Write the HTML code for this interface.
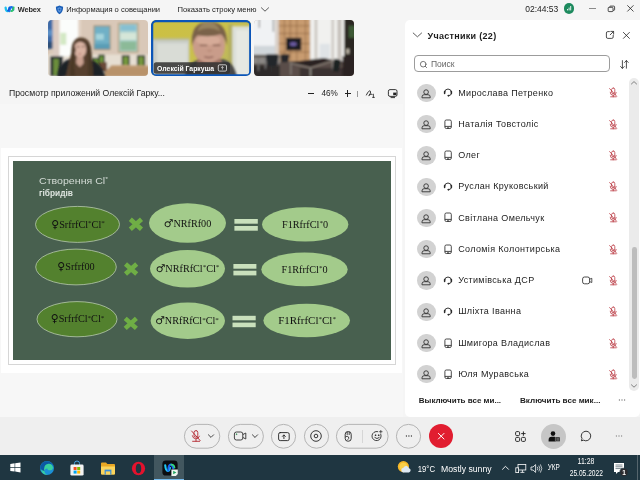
<!DOCTYPE html>
<html lang="ru"><head><meta charset="utf-8"><title>Webex</title>
<style>
*{box-sizing:border-box;margin:0;padding:0}
html,body{width:640px;height:480px;overflow:hidden;background:#f5f5f5;font-family:"Liberation Sans",sans-serif;color:#1a1a1a}
.a{position:absolute}
.t{position:absolute;white-space:nowrap;font-size:8.6px;line-height:10px;color:#1c1c1c}
#panel{left:405px;top:20px;width:235px;height:396.500px;background:#fff;border-radius:5px 0 5px 5px}
.av{position:absolute;left:417.3px;width:18.4px;height:18.4px;border-radius:50%;background:#d2d2d2}
.av svg{position:absolute;left:0;top:0}
.nm{position:absolute;left:458.200px;font-size:9px;letter-spacing:0.350px;line-height:10px;white-space:nowrap;color:#1c1c1c}
#task{left:0;top:455px;width:640px;height:25px;background:#1f3641}
.btn{position:absolute;border:0.7px solid #9a9a9a;border-radius:12.2px;height:24.4px;top:423.8px;background:#f5f5f5}
#root{position:absolute;left:0;top:0;width:640px;height:480px;overflow:hidden;will-change:transform;transform:translateZ(0)}
</style></head><body><div id="root">

<!-- title bar -->
<svg class="a" style="left:4px;top:4.500px" width="11" height="9" viewBox="0 0 11 9" fill="none" stroke-linecap="round"><path d="M1.600 2.600 q0.400 3.600 2 3.600 q1.600 0 2 -3.600" stroke="#1cc0ee" stroke-width="2.300"/><path d="M5.400 6.200 q0.400 -4 2 -4 q1.400 0 1.800 2.400" stroke="#1d6ff0" stroke-width="2.300"/><path d="M7.400 6 q1.600 0.200 2.200 -3.400" stroke="#2fc56e" stroke-width="2"/><path d="M4 5.600 q0.800 -0.400 1.400 -3" stroke="#1458d8" stroke-width="1.700"/></svg>
<div class="t" style="left:17.700px;top:4.600px;font-size:7.400px;font-weight:bold;color:#2a2a2a;letter-spacing:-0.100px">Webex</div>
<svg class="a" style="left:54.500px;top:4.500px" width="9" height="10" viewBox="0 0 9 10"><path d="M4.500 0.600 q2 1.100 3.600 1.100 q0.200 5.600 -3.600 7.600 q-3.800 -2 -3.600 -7.600 q1.600 0 3.600 -1.100z" fill="#1b5fb8"/><path d="M4.500 2.300 q1.100 0.600 2.100 0.700 q0 3.300 -2.100 4.600 q-2.100 -1.300 -2.100 -4.600 q1 -0.100 2.100 -0.700z" fill="#5c95dc"/><circle cx="4.500" cy="4.400" r="1" fill="#1b5fb8"/></svg>
<div class="t" style="left:66.300px;top:4.700px;font-size:7.550px">Информация о совещании</div>
<div class="t" style="left:177.500px;top:4.700px;font-size:7.620px">Показать строку меню</div>
<svg class="a" style="left:260px;top:5.500px" width="10" height="7" viewBox="0 0 10 7" fill="none" stroke="#333" stroke-width="0.800" stroke-linecap="round" stroke-linejoin="round"><path d="M1.400 1.800 l3.600 3.400 l3.600 -3.400"/></svg>
<div class="t" style="left:525.200px;top:3.600px;font-size:8.500px">02:44:53</div>
<div class="a" style="left:563.800px;top:3.400px;width:10.200px;height:10.200px;border-radius:50%;background:#1d8a5e"></div>
<svg class="a" style="left:563.800px;top:3.400px" width="10.200" height="10.200" viewBox="0 0 10.200 10.200" stroke="#fff" stroke-width="0.900"><path d="M3.500 7.400 v-1.400 M5.100 7.400 v-2.800 M6.700 7.400 v-4.400"/></svg>
<div class="a" style="left:589.200px;top:7.700px;width:6.500px;height:0.800px;background:#8a8a8a"></div>
<svg class="a" style="left:607px;top:4.500px" width="9" height="8" viewBox="0 0 9 8" fill="none" stroke="#222" stroke-width="0.800"><rect x="1.200" y="2.300" width="4.800" height="4.300" rx="0.800"/><path d="M2.800 2.300 v-0.500 q0 -0.700 0.700 -0.700 h3.300 q0.800 0 0.800 0.800 v2.700 q0 0.700 -0.700 0.700 h-0.800"/></svg>
<svg class="a" style="left:626px;top:4.200px" width="9" height="9" viewBox="0 0 9 9" fill="none" stroke="#222" stroke-width="0.800" stroke-linecap="round"><path d="M1.600 1.600 l5.600 5.600 M7.200 1.600 l-5.600 5.600"/></svg>


<svg class="a" style="left:47.700px;top:20.200px;border-radius:4px" width="100.400" height="55.700" viewBox="47.700 20.200 100.400 55.700">
<defs><filter id="bl1" x="-5%" y="-5%" width="110%" height="110%"><feGaussianBlur stdDeviation="0.8"/></filter>
<filter id="bl2" x="-10%" y="-10%" width="120%" height="120%"><feGaussianBlur stdDeviation="1.1"/></filter></defs>
<rect x="47" y="20" width="102" height="57" fill="#d9c8b8"/>
<g filter="url(#bl1)">
<rect x="46" y="54.800" width="104" height="24" fill="#e6ded2"/>
<rect x="46" y="18" width="6.400" height="31" fill="#3d6aa8"/>
<rect x="46" y="30" width="6.400" height="6" fill="#5b8fc6"/>
<rect x="46" y="42" width="6.400" height="7" fill="#2f4f78"/>
<rect x="52.400" y="18" width="7" height="40" fill="#dccbc2"/>
<rect x="59.200" y="18" width="18.500" height="38.500" fill="#fbfdfb"/>
<rect x="60" y="33" width="6" height="12" fill="#d3e8c4"/>
<rect x="77.700" y="18" width="3" height="38" fill="#e4d6c8"/>
<rect x="93.300" y="25.600" width="17" height="24.600" fill="#a58e6c"/>
<rect x="94.300" y="26.600" width="15" height="22.600" fill="#6fb0c6"/>
<rect x="95.500" y="34" width="8" height="6" fill="#a5d4dc"/>
<rect x="94.300" y="44" width="15" height="5.200" fill="#5a9db6"/>
<rect x="117.700" y="23.100" width="20.400" height="29.700" fill="#b39c78"/>
<rect x="118.900" y="24.300" width="18" height="27.300" fill="#aed3d0"/>
<rect x="120" y="25" width="16" height="6" fill="#86c0d2"/>
<rect x="120" y="33" width="16" height="7" fill="#d5e6d8"/>
<rect x="120" y="41.500" width="16" height="9" fill="#8cba98"/>
<rect x="49.800" y="56.500" width="13" height="20" fill="#2c3334"/>
<rect x="53" y="59" width="5.500" height="17" fill="#6c8f3a"/>
<rect x="91" y="58" width="9" height="14" fill="#2f3a28"/>
<rect x="92.500" y="59.500" width="6" height="12" fill="#6c9436"/>
<rect x="98" y="55" width="6.500" height="11" fill="#2e3a2c"/>
<rect x="99.500" y="56.500" width="3.500" height="8" fill="#6e9a3a"/>
<rect x="98.800" y="62.400" width="7.800" height="9.600" fill="#6a4a38"/>
<rect x="121.400" y="55.600" width="8" height="10.400" fill="#2e3528"/>
<rect x="123" y="57" width="4.800" height="9" fill="#74983c"/>
<rect x="136.600" y="55.600" width="8.300" height="10.400" fill="#2e3528"/>
<rect x="138.300" y="57" width="4.900" height="9" fill="#74983c"/>
<path d="M111.500 65.300 L149 66 V77 H100z" fill="#b8926a"/>
<path d="M111.500 65.300 L149 66 V67.200 L110 66.600z" fill="#c9a67e"/>
</g>
<g filter="url(#bl1)">
<path d="M57 77 q1 -15 13 -18 l18 0 q13 3 17 18z" fill="#1f2128"/>
<path d="M65.500 77 q3 -14 5.500 -24 q0 -15 9.500 -15.200 q10.500 0.200 10.600 15 q1 12 1.800 24.200z" fill="#56412f"/>
<ellipse cx="79.800" cy="49.600" rx="6.200" ry="8.400" fill="#d9b2a2"/>
<path d="M72.800 48 q0.500 -8.500 7 -9 q7 0.500 7.600 9 q-3.200 -5.800 -7.400 -6 q-4.800 0.600 -7.200 6z" fill="#56412f"/>
<path d="M76.300 57 h6.500 l0.600 6.500 l-3.800 4 l-3.800 -4z" fill="#c9a090"/>
<path d="M85.500 44 q3 10 1.800 33 h5.700 l-2 -24 q-1 -8 -5.500 -9z" fill="#4a3728"/>
<path d="M74 45 q-4 12 -4.500 32 h5.500 q-2.500 -18 0.500 -27z" fill="#4a3728"/>
<path d="M76.500 47 h2.600 M81.500 46.800 h2.600" stroke="#5a4036" stroke-width="0.900"/>
<path d="M78.200 54.200 h2.600" stroke="#a8665e" stroke-width="0.900"/>
</g>
</svg>

<svg class="a" style="left:150.700px;top:19.700px;border-radius:5px" width="100.400" height="56.500" viewBox="150.700 19.700 100.400 56.500">
<defs><linearGradient id="wall2" x1="0" y1="0" x2="1" y2="0.600"><stop offset="0" stop-color="#cdc040"/><stop offset="0.600" stop-color="#c9c04c"/><stop offset="1" stop-color="#b9b562"/></linearGradient></defs>
<rect x="150" y="19" width="102" height="58" fill="url(#wall2)"/>
<g filter="url(#bl1)">
<rect x="151" y="38" width="38" height="40" fill="#c9cdc7"/>
<rect x="156.800" y="43" width="30.500" height="24" fill="#d9dcd6"/>
<rect x="151" y="38" width="38" height="1.800" fill="#b9b98a"/>
<rect x="228" y="24" width="5" height="54" fill="#b3ae5c"/>
<rect x="232" y="26" width="21" height="52" fill="#dcdfd8"/>
<rect x="236" y="30" width="12" height="46" fill="#e6e8e2"/>
</g>
<g filter="url(#bl1)">
<path d="M184 78 q2 -15 15 -19 h24 q11 3 14 19z" fill="#48484a"/>
<path d="M198 58 h22 l2 8 q-13 7 -26 0z" fill="#a87868"/>
<ellipse cx="208.600" cy="45" rx="16.200" ry="19.500" fill="#c99c8a"/>
<ellipse cx="208" cy="40" rx="12" ry="5" fill="#d6ab98"/>
<path d="M197 58 q11 9 23 0 q-2 7 -11.500 7.500 q-9 -0.500 -11.500 -7.500z" fill="#8f6458"/>
<path d="M192 46 q-3 -24.500 17 -24.500 q19 0 17.500 24 q-2 -9 -6 -11.500 q-11 3.500 -23 1 q-4 3 -5.500 11z" fill="#7a6248"/>
<path d="M197 31 q11 -6 23 0 q-4 -9.500 -11.500 -9.500 q-8 0 -11.500 9.500z" fill="#98835f"/>
<path d="M199.500 45 h7.500 M212.500 45 h7.500" stroke="#7a5444" stroke-width="1.200"/>
<path d="M204 56.500 q4.500 1.500 9 0" stroke="#7d4f46" stroke-width="1.200" fill="none"/>
<path d="M207 50 q2 1.500 4.500 0" stroke="#a87868" stroke-width="0.900" fill="none"/>
</g>
<rect x="153.400" y="61.900" width="76.300" height="11.600" rx="2.500" fill="#333" opacity="0.860"/>
<text x="156.800" y="70.500" font-family="'Liberation Sans',sans-serif" font-size="7.300" font-weight="bold" fill="#fff" textLength="57" lengthAdjust="spacingAndGlyphs">Олексій Гаркуша</text>
<g fill="none" stroke="#fff" stroke-width="0.700"><rect x="218" y="64.500" width="8.200" height="6.300" rx="1.200"/><path d="M222.100 69.300 v-3 M220.900 67.500 l1.200 -1.200 l1.200 1.200" stroke-width="0.600"/></g>
<rect x="151.800" y="20.800" width="98.200" height="54.300" rx="4" fill="none" stroke="#0b55b8" stroke-width="2.300"/>
</svg>

<svg class="a" style="left:254.200px;top:20.200px;border-radius:4px" width="100" height="55.700" viewBox="254.200 20.200 100 55.700">
<rect x="253" y="19" width="103" height="58" fill="#b8a696"/>
<g filter="url(#bl1)">
<rect x="252" y="18" width="23.500" height="31" fill="#f0f2f4"/>
<rect x="252" y="46" width="23.500" height="9" fill="#d0d6da"/>
<rect x="259" y="18" width="1" height="10" fill="#777"/><rect x="273" y="18" width="1" height="14" fill="#777"/>
<rect x="275.300" y="18" width="4" height="44" fill="#dad2ca"/>
<rect x="279" y="18" width="31.500" height="43.500" fill="#c89b6f"/>
<path d="M284.600 18 v43 M290.500 18 v43 M297 18 v43 M305.700 18 v43 M279 26 h31.500 M279 33.700 h31.500 M279 43.800 h31.500 M279 52.300 h31.500" stroke="#7a5636" stroke-width="0.550" fill="none"/>
<rect x="286.300" y="38" width="15.200" height="12.600" fill="#1b1b21"/>
<ellipse cx="293.500" cy="44.300" rx="3.500" ry="2" fill="#6a5aa0"/>
<rect x="310.400" y="18" width="34.500" height="46" fill="#f1f1ef"/>
<rect x="314.800" y="18" width="2.700" height="44" fill="#cbc7c1"/>
<rect x="331.600" y="18" width="2.700" height="44" fill="#cfcbc5"/>
<rect x="337.600" y="18" width="4.200" height="44" fill="#c6c1bb"/>
<rect x="320" y="44" width="10" height="14" fill="#dfe3e6"/>
<rect x="344.500" y="18" width="12" height="60" fill="#2a2622"/>
<rect x="349" y="26" width="6" height="12" fill="#3e5a34"/>
<rect x="346.500" y="49" width="3" height="5" fill="#bdb6a8"/>
<rect x="252" y="55" width="28" height="24" fill="#8b8784"/>
<rect x="252" y="64" width="60" height="14" fill="#4e4642"/>
<rect x="252" y="66" width="30" height="12" fill="#2f2b2b"/>
<rect x="280" y="61.500" width="66" height="16" fill="#5a4e48"/>
<rect x="300" y="68" width="45" height="10" fill="#3b3330"/>
<rect x="254" y="55.300" width="22" height="2.200" fill="#4d4641"/>
<rect x="258" y="57" width="1.200" height="14" fill="#777"/><rect x="265" y="57" width="1.200" height="12" fill="#777"/>
<path d="M289.700 62.400 L324.200 58.200 L333.500 60.200 L310.700 67.500z" fill="#2b2320"/>
<path d="M289.700 62.400 L310.700 67.500 L333.500 60.200 V61.400 L310.700 68.900 L289.700 63.700z" fill="#8a8078"/>
<rect x="290.500" y="64" width="1.200" height="11" fill="#8a8580"/><rect x="310" y="68.500" width="1.400" height="8" fill="#9a958f"/><rect x="332" y="61" width="1.200" height="9" fill="#8a8580"/>
<path d="M266 56 q0 -1.500 2 -1.500 h9 q2 0 1.700 2 l-1.200 8 q-0.500 2 -2.500 2 h-5 q-2.500 0 -3 -2.500z" fill="#23262b"/>
<rect x="271" y="66" width="1.400" height="6" fill="#333"/>
<path d="M280.500 56 q0 -1.500 2 -1.500 h6 q1.500 0 1.200 1.500 l-1 5 q-0.400 1.500 -2 1.500 h-3.500 q-2 0 -2.300 -2z" fill="#25272c"/>
<path d="M334 60 q0.500 -1.500 2.500 -1 l3.500 1 q1.500 0.500 1 2 l-2 9 q-0.500 1.200 -2 1 l-3 -0.500 q-1.500 -0.500 -1.300 -2z" fill="#1f2024"/>
<rect x="342.800" y="56.500" width="12" height="20" fill="#2a2422"/>
</g>
</svg>


<!-- share header -->
<div class="t" style="left:9px;top:88.200px;font-size:8.660px">Просмотр приложений Олексій Гарку...</div>
<div class="a" style="left:308.300px;top:92.600px;width:6.200px;height:1.300px;background:#222"></div>
<div class="t" style="left:321.500px;top:89px;font-size:8.200px">46%</div>
<div class="a" style="left:344.600px;top:92.600px;width:6.400px;height:1.300px;background:#222"></div>
<div class="a" style="left:347.200px;top:90px;width:1.300px;height:6.500px;background:#222"></div>
<div class="a" style="left:357px;top:90.500px;width:0.700px;height:6.500px;background:#999"></div>
<svg class="a" style="left:365px;top:88.500px" width="12" height="10" viewBox="0 0 12 10" fill="none" stroke="#222" stroke-width="0.900" stroke-linecap="round" stroke-linejoin="round"><path d="M1.400 6 q2.600 -5.400 4 -3.800 q1 1.600 -1.600 4.400 q2.400 -2.400 3.400 -1.400"/><path d="M8.400 5.200 v3.200 M7.600 8.400 h1.800" stroke-width="0.800"/></svg>
<svg class="a" style="left:386.500px;top:88px" width="12" height="11" viewBox="0 0 12 11" fill="none" stroke="#222" stroke-width="0.900" stroke-linejoin="round"><rect x="1.400" y="1.600" width="8.600" height="6.800" rx="1.600"/><rect x="6.200" y="4.600" width="3.200" height="2.600" fill="#222" stroke="none"/><path d="M4 9.600 h3.600" stroke-linecap="round"/></svg>

<!-- share area -->
<div class="a" style="left:0;top:104px;width:402.500px;height:312.800px;background:#f7f7f7"></div>
<div class="a" style="left:1px;top:147.5px;width:401px;height:225px;background:#fff"></div>
<div class="a" style="left:8px;top:156px;width:388px;height:209px;background:#fff;border:1px solid #d6d6d6"></div>
<svg class="a" style="left:13px;top:161px" width="378" height="199" viewBox="13 161 378 199" font-family="'Liberation Serif',serif" font-size="10.200" fill="#111">
<rect x="13" y="161" width="378" height="199" fill="#48604f"/>
<text x="39" y="183.600" font-family="'Liberation Sans',sans-serif" font-size="9" fill="#d3dbd5" textLength="69" lengthAdjust="spacingAndGlyphs">Створення Cl<tspan font-size="6" dy="-2.400">*</tspan></text>
<text x="39" y="195.500" font-family="'Liberation Sans',sans-serif" font-size="8.400" fill="#dde4df" font-weight="bold" textLength="34" lengthAdjust="spacingAndGlyphs">гібридів</text>
<g fill="#53812e" stroke="#c5d6bd" stroke-width="0.7">
<ellipse cx="77.5" cy="224.4" rx="42" ry="18"/>
<ellipse cx="76" cy="267" rx="40.300" ry="17.900"/>
<ellipse cx="77" cy="319.200" rx="40" ry="17.600"/>
</g>
<g fill="#a3cb8b">
<ellipse cx="187.5" cy="223" rx="38.5" ry="19.7"/>
<ellipse cx="187.5" cy="268.8" rx="37.5" ry="18.8"/>
<ellipse cx="187.8" cy="320.8" rx="37.2" ry="18.2"/>
<ellipse cx="305.2" cy="224.4" rx="43.2" ry="17.2"/>
<ellipse cx="304.5" cy="269.4" rx="43.2" ry="16.9"/>
<ellipse cx="306.7" cy="320.5" rx="43.3" ry="16.7"/>
</g>
<g stroke="#6fae45" stroke-width="4.600" fill="none">
<path d="M130.3 219.3 L141.5 229.3 M141.5 219.3 L130.3 229.3"/>
<path d="M125.5 264.0 L136.7 274.0 M136.7 264.0 L125.5 274.0"/>
<path d="M125.20000000000002 318.4 L136.4 328.4 M136.4 318.4 L125.20000000000002 328.4"/>
</g>
<g fill="#c9e0bc">
<rect x="234.4" y="219" width="23.4" height="4.7"/><rect x="234.4" y="226" width="23.4" height="4.7"/>
<rect x="233.4" y="264" width="23" height="4.7"/><rect x="233.4" y="270.7" width="23" height="4.7"/>
<rect x="232.5" y="315.8" width="23.2" height="4.5"/><rect x="232.5" y="322.6" width="23.2" height="4.6"/>
</g>
<g text-anchor="middle">
<text x="78" y="227.6"><tspan font-family="'DejaVu Sans',sans-serif" font-size="10.8">♀</tspan>SrfrfCl<tspan font-size="7" dy="-2.4">*</tspan><tspan dy="2.4">C</tspan>l<tspan font-size="7" dy="-2.4">*</tspan></text>
<text x="76" y="270"><tspan font-family="'DejaVu Sans',sans-serif" font-size="10.8">♀</tspan>Srfrf00</text>
<text x="77.5" y="322.3"><tspan font-family="'DejaVu Sans',sans-serif" font-size="10.8">♀</tspan>SrfrfCl<tspan font-size="7" dy="-2.4">*</tspan><tspan dy="2.4">C</tspan>l<tspan font-size="7" dy="-2.4">*</tspan></text>
<text x="187.5" y="226.6"><tspan font-family="'DejaVu Sans',sans-serif" font-size="10.8">♂</tspan>NRfRf00</text>
<text x="187.5" y="271.6"><tspan font-family="'DejaVu Sans',sans-serif" font-size="10.8">♂</tspan>NRfRfCl<tspan font-size="7" dy="-2.4">*</tspan><tspan dy="2.4">C</tspan>l<tspan font-size="7" dy="-2.4">*</tspan></text>
<text x="187" y="324"><tspan font-family="'DejaVu Sans',sans-serif" font-size="10.8">♂</tspan>NRfRfCl<tspan font-size="7" dy="-2.4">*</tspan><tspan dy="2.4">C</tspan>l<tspan font-size="7" dy="-2.4">*</tspan></text>
<text x="305" y="227.6">F1RfrfCl<tspan font-size="7" dy="-2.4">*</tspan><tspan dy="2.4">0</tspan></text>
<text x="304.5" y="272.6">F1RfrfCl<tspan font-size="7" dy="-2.4">*</tspan><tspan dy="2.4">0</tspan></text>
<text x="307" y="323.500" font-size="11">F1RfrfCl<tspan font-size="7" dy="-2.4">*</tspan><tspan dy="2.4">C</tspan>l<tspan font-size="7" dy="-2.4">*</tspan></text>
</g>
</svg>

<!-- participants panel -->
<div class="a" id="panel"></div>
<svg class="a" style="left:412px;top:31px" width="11" height="8" viewBox="0 0 11 8" fill="none" stroke="#333" stroke-width="0.800" stroke-linecap="round" stroke-linejoin="round"><path d="M1.200 2 l4.200 3.800 l4.200 -3.800"/></svg>
<div class="t" style="left:427.500px;top:30.800px;font-size:9px;font-weight:bold;letter-spacing:0.300px">Участники (22)</div>
<svg class="a" style="left:604.500px;top:30px" width="10" height="10" viewBox="0 0 10 10" fill="none" stroke="#222" stroke-width="0.800" stroke-linecap="round" stroke-linejoin="round"><path d="M4.400 1.600 h-1.600 q-1.400 0 -1.400 1.400 v4 q0 1.400 1.400 1.400 h4 q1.400 0 1.400 -1.400 v-1.600"/><path d="M5.800 1.400 h2.800 v2.800 M8.400 1.600 l-3.200 3.200"/></svg>
<svg class="a" style="left:622.300px;top:30.600px" width="9" height="9" viewBox="0 0 9 9" fill="none" stroke="#222" stroke-width="0.800" stroke-linecap="round"><path d="M1.400 1.400 l6 6 M7.400 1.400 l-6 6"/></svg>
<div class="a" style="left:413.500px;top:55.200px;width:196px;height:17.300px;border:1px solid #9c9c9c;border-radius:4px;background:#fff"></div>
<svg class="a" style="left:418.500px;top:59.500px" width="9" height="9" viewBox="0 0 9 9" fill="none" stroke="#555" stroke-width="0.800" stroke-linecap="round"><circle cx="4.200" cy="4.200" r="2.800"/><path d="M6.300 6.300 l1.300 1.300"/></svg>
<div class="t" style="left:431px;top:58.700px;font-size:8.500px;color:#666">Поиск</div>
<svg class="a" style="left:618.500px;top:58.500px" width="11" height="11" viewBox="0 0 11 11" fill="none" stroke="#222" stroke-width="0.800" stroke-linecap="round" stroke-linejoin="round"><path d="M3.400 1.600 v7.600 M1.600 7.600 l1.800 1.800 l1.800 -1.800 M7.400 9.200 v-7.600 M5.600 3.400 l1.800 -1.800 l1.800 1.800"/></svg>
<div class="av" style="top:83.7px"><svg width="18.4" height="18.4" viewBox="0 0 18.4 18.4"><g fill="none" stroke="#333" stroke-width="0.900"><circle cx="9.100" cy="8.100" r="2.300"/><path d="M5 13.800 v-0.900 a2.200 2.200 0 0 1 2.200 -2.200 h3.800 a2.200 2.200 0 0 1 2.200 2.200 v0.900 z" stroke-linejoin="round"/></g></svg></div>
<svg class="a" style="left:442.5px;top:87.4px" width="10" height="11" viewBox="0 0 10 11"><g transform="translate(0,-0.800)" fill="none" stroke="#2a2a2a" stroke-width="0.95" stroke-linecap="round"><path d="M1.6 6.2 a3.4 3.4 0 1 1 6.8 0"/><path d="M1.6 5.2 v2.2 M8.4 5.2 v2.2" stroke-width="1.5"/><path d="M8.4 7.4 q0 1.9 -2.6 2.1"/><circle cx="5.3" cy="9.5" r="0.5" fill="#2a2a2a"/></g></svg>
<div class="nm" style="top:87.6px">Мирослава Петренко</div>
<svg class="a" style="left:608px;top:87.4px" width="10" height="11" viewBox="0 0 10 11"><g fill="none" stroke="#b3262f" stroke-width="0.72" stroke-linecap="round"><rect x="3.6" y="1" width="3.2" height="5.6" rx="1.6"/><path d="M2.2 5.2 a3 3 0 0 0 6 0.2"/><path d="M5.2 8.2 v1.6 M2.6 9.8 h5.6"/><path d="M1.6 1.6 l7 7.6"/></g></svg>
<div class="av" style="top:115.0px"><svg width="18.4" height="18.4" viewBox="0 0 18.4 18.4"><g fill="none" stroke="#333" stroke-width="0.900"><circle cx="9.100" cy="8.100" r="2.300"/><path d="M5 13.800 v-0.900 a2.200 2.200 0 0 1 2.200 -2.200 h3.800 a2.200 2.200 0 0 1 2.200 2.200 v0.900 z" stroke-linejoin="round"/></g></svg></div>
<svg class="a" style="left:442.5px;top:118.7px" width="10" height="11" viewBox="0 0 10 11"><g fill="none" stroke="#2a2a2a" stroke-width="0.85"><rect x="1.900" y="1" width="6.400" height="8.500" rx="1.400"/><path d="M1.900 7.400 h6.400"/><path d="M4.4 8.8 h1.4" stroke-linecap="round"/></g></svg>
<div class="nm" style="top:118.9px">Наталія Товстоліс</div>
<svg class="a" style="left:608px;top:118.7px" width="10" height="11" viewBox="0 0 10 11"><g fill="none" stroke="#b3262f" stroke-width="0.72" stroke-linecap="round"><rect x="3.6" y="1" width="3.2" height="5.6" rx="1.6"/><path d="M2.2 5.2 a3 3 0 0 0 6 0.2"/><path d="M5.2 8.2 v1.6 M2.6 9.8 h5.6"/><path d="M1.6 1.6 l7 7.6"/></g></svg>
<div class="av" style="top:146.2px"><svg width="18.4" height="18.4" viewBox="0 0 18.4 18.4"><g fill="none" stroke="#333" stroke-width="0.900"><circle cx="9.100" cy="8.100" r="2.300"/><path d="M5 13.800 v-0.900 a2.200 2.200 0 0 1 2.200 -2.200 h3.800 a2.200 2.200 0 0 1 2.200 2.200 v0.900 z" stroke-linejoin="round"/></g></svg></div>
<svg class="a" style="left:442.5px;top:149.9px" width="10" height="11" viewBox="0 0 10 11"><g fill="none" stroke="#2a2a2a" stroke-width="0.85"><rect x="1.900" y="1" width="6.400" height="8.500" rx="1.400"/><path d="M1.900 7.400 h6.400"/><path d="M4.4 8.8 h1.4" stroke-linecap="round"/></g></svg>
<div class="nm" style="top:150.1px">Олег</div>
<svg class="a" style="left:608px;top:149.9px" width="10" height="11" viewBox="0 0 10 11"><g fill="none" stroke="#b3262f" stroke-width="0.72" stroke-linecap="round"><rect x="3.6" y="1" width="3.2" height="5.6" rx="1.6"/><path d="M2.2 5.2 a3 3 0 0 0 6 0.2"/><path d="M5.2 8.2 v1.6 M2.6 9.8 h5.6"/><path d="M1.6 1.6 l7 7.6"/></g></svg>
<div class="av" style="top:177.5px"><svg width="18.4" height="18.4" viewBox="0 0 18.4 18.4"><g fill="none" stroke="#333" stroke-width="0.900"><circle cx="9.100" cy="8.100" r="2.300"/><path d="M5 13.800 v-0.900 a2.200 2.200 0 0 1 2.200 -2.200 h3.800 a2.200 2.200 0 0 1 2.200 2.200 v0.900 z" stroke-linejoin="round"/></g></svg></div>
<svg class="a" style="left:442.5px;top:181.2px" width="10" height="11" viewBox="0 0 10 11"><g transform="translate(0,-0.800)" fill="none" stroke="#2a2a2a" stroke-width="0.95" stroke-linecap="round"><path d="M1.6 6.2 a3.4 3.4 0 1 1 6.8 0"/><path d="M1.6 5.2 v2.2 M8.4 5.2 v2.2" stroke-width="1.5"/><path d="M8.4 7.4 q0 1.9 -2.6 2.1"/><circle cx="5.3" cy="9.5" r="0.5" fill="#2a2a2a"/></g></svg>
<div class="nm" style="top:181.4px">Руслан Круковський</div>
<svg class="a" style="left:608px;top:181.2px" width="10" height="11" viewBox="0 0 10 11"><g fill="none" stroke="#b3262f" stroke-width="0.72" stroke-linecap="round"><rect x="3.6" y="1" width="3.2" height="5.6" rx="1.6"/><path d="M2.2 5.2 a3 3 0 0 0 6 0.2"/><path d="M5.2 8.2 v1.6 M2.6 9.8 h5.6"/><path d="M1.6 1.6 l7 7.6"/></g></svg>
<div class="av" style="top:208.7px"><svg width="18.4" height="18.4" viewBox="0 0 18.4 18.4"><g fill="none" stroke="#333" stroke-width="0.900"><circle cx="9.100" cy="8.100" r="2.300"/><path d="M5 13.800 v-0.900 a2.200 2.200 0 0 1 2.200 -2.200 h3.800 a2.200 2.200 0 0 1 2.200 2.200 v0.900 z" stroke-linejoin="round"/></g></svg></div>
<svg class="a" style="left:442.5px;top:212.4px" width="10" height="11" viewBox="0 0 10 11"><g fill="none" stroke="#2a2a2a" stroke-width="0.85"><rect x="1.900" y="1" width="6.400" height="8.500" rx="1.400"/><path d="M1.900 7.400 h6.400"/><path d="M4.4 8.8 h1.4" stroke-linecap="round"/></g></svg>
<div class="nm" style="top:212.6px">Світлана Омельчук</div>
<svg class="a" style="left:608px;top:212.4px" width="10" height="11" viewBox="0 0 10 11"><g fill="none" stroke="#b3262f" stroke-width="0.72" stroke-linecap="round"><rect x="3.6" y="1" width="3.2" height="5.6" rx="1.6"/><path d="M2.2 5.2 a3 3 0 0 0 6 0.2"/><path d="M5.2 8.2 v1.6 M2.6 9.8 h5.6"/><path d="M1.6 1.6 l7 7.6"/></g></svg>
<div class="av" style="top:240.0px"><svg width="18.4" height="18.4" viewBox="0 0 18.4 18.4"><g fill="none" stroke="#333" stroke-width="0.900"><circle cx="9.100" cy="8.100" r="2.300"/><path d="M5 13.800 v-0.900 a2.200 2.200 0 0 1 2.200 -2.200 h3.800 a2.200 2.200 0 0 1 2.200 2.200 v0.900 z" stroke-linejoin="round"/></g></svg></div>
<svg class="a" style="left:442.5px;top:243.7px" width="10" height="11" viewBox="0 0 10 11"><g fill="none" stroke="#2a2a2a" stroke-width="0.85"><rect x="1.900" y="1" width="6.400" height="8.500" rx="1.400"/><path d="M1.900 7.400 h6.400"/><path d="M4.4 8.8 h1.4" stroke-linecap="round"/></g></svg>
<div class="nm" style="top:243.9px">Соломія Колонтирська</div>
<svg class="a" style="left:608px;top:243.7px" width="10" height="11" viewBox="0 0 10 11"><g fill="none" stroke="#b3262f" stroke-width="0.72" stroke-linecap="round"><rect x="3.6" y="1" width="3.2" height="5.6" rx="1.6"/><path d="M2.2 5.2 a3 3 0 0 0 6 0.2"/><path d="M5.2 8.2 v1.6 M2.6 9.8 h5.6"/><path d="M1.6 1.6 l7 7.6"/></g></svg>
<div class="av" style="top:271.3px"><svg width="18.4" height="18.4" viewBox="0 0 18.4 18.4"><g fill="none" stroke="#333" stroke-width="0.900"><circle cx="9.100" cy="8.100" r="2.300"/><path d="M5 13.800 v-0.900 a2.200 2.200 0 0 1 2.200 -2.200 h3.800 a2.200 2.200 0 0 1 2.200 2.200 v0.900 z" stroke-linejoin="round"/></g></svg></div>
<svg class="a" style="left:442.5px;top:275.0px" width="10" height="11" viewBox="0 0 10 11"><g transform="translate(0,-0.800)" fill="none" stroke="#2a2a2a" stroke-width="0.95" stroke-linecap="round"><path d="M1.6 6.2 a3.4 3.4 0 1 1 6.8 0"/><path d="M1.6 5.2 v2.2 M8.4 5.2 v2.2" stroke-width="1.5"/><path d="M8.4 7.4 q0 1.9 -2.6 2.1"/><circle cx="5.3" cy="9.5" r="0.5" fill="#2a2a2a"/></g></svg>
<div class="nm" style="top:275.2px">Устимівська ДСР</div>
<svg class="a" style="left:608px;top:275.0px" width="10" height="11" viewBox="0 0 10 11"><g fill="none" stroke="#b3262f" stroke-width="0.72" stroke-linecap="round"><rect x="3.6" y="1" width="3.2" height="5.6" rx="1.6"/><path d="M2.2 5.2 a3 3 0 0 0 6 0.2"/><path d="M5.2 8.2 v1.6 M2.6 9.8 h5.6"/><path d="M1.6 1.6 l7 7.6"/></g></svg>
<svg class="a" style="left:581px;top:275.0px" width="12" height="11" viewBox="0 0 12 11"><g fill="none" stroke="#2a2a2a" stroke-width="0.850" stroke-linejoin="round"><rect x="1.600" y="2" width="7" height="6.800" rx="1.900"/><path d="M8.600 4.200 l2.200 -0.900 v4.200 l-2.200 -0.900" stroke-width="0.800"/></g></svg>
<div class="av" style="top:302.5px"><svg width="18.4" height="18.4" viewBox="0 0 18.4 18.4"><g fill="none" stroke="#333" stroke-width="0.900"><circle cx="9.100" cy="8.100" r="2.300"/><path d="M5 13.800 v-0.900 a2.200 2.200 0 0 1 2.200 -2.200 h3.800 a2.200 2.200 0 0 1 2.200 2.200 v0.900 z" stroke-linejoin="round"/></g></svg></div>
<svg class="a" style="left:442.5px;top:306.2px" width="10" height="11" viewBox="0 0 10 11"><g transform="translate(0,-0.800)" fill="none" stroke="#2a2a2a" stroke-width="0.95" stroke-linecap="round"><path d="M1.6 6.2 a3.4 3.4 0 1 1 6.8 0"/><path d="M1.6 5.2 v2.2 M8.4 5.2 v2.2" stroke-width="1.5"/><path d="M8.4 7.4 q0 1.9 -2.6 2.1"/><circle cx="5.3" cy="9.5" r="0.5" fill="#2a2a2a"/></g></svg>
<div class="nm" style="top:306.4px">Шліхта Іванна</div>
<svg class="a" style="left:608px;top:306.2px" width="10" height="11" viewBox="0 0 10 11"><g fill="none" stroke="#b3262f" stroke-width="0.72" stroke-linecap="round"><rect x="3.6" y="1" width="3.2" height="5.6" rx="1.6"/><path d="M2.2 5.2 a3 3 0 0 0 6 0.2"/><path d="M5.2 8.2 v1.6 M2.6 9.8 h5.6"/><path d="M1.6 1.6 l7 7.6"/></g></svg>
<div class="av" style="top:333.8px"><svg width="18.4" height="18.4" viewBox="0 0 18.4 18.4"><g fill="none" stroke="#333" stroke-width="0.900"><circle cx="9.100" cy="8.100" r="2.300"/><path d="M5 13.800 v-0.900 a2.200 2.200 0 0 1 2.200 -2.200 h3.800 a2.200 2.200 0 0 1 2.200 2.200 v0.900 z" stroke-linejoin="round"/></g></svg></div>
<svg class="a" style="left:442.5px;top:337.5px" width="10" height="11" viewBox="0 0 10 11"><g fill="none" stroke="#2a2a2a" stroke-width="0.85"><rect x="1.900" y="1" width="6.400" height="8.500" rx="1.400"/><path d="M1.900 7.400 h6.400"/><path d="M4.4 8.8 h1.4" stroke-linecap="round"/></g></svg>
<div class="nm" style="top:337.7px">Шмигора Владислав</div>
<svg class="a" style="left:608px;top:337.5px" width="10" height="11" viewBox="0 0 10 11"><g fill="none" stroke="#b3262f" stroke-width="0.72" stroke-linecap="round"><rect x="3.6" y="1" width="3.2" height="5.6" rx="1.6"/><path d="M2.2 5.2 a3 3 0 0 0 6 0.2"/><path d="M5.2 8.2 v1.6 M2.6 9.8 h5.6"/><path d="M1.6 1.6 l7 7.6"/></g></svg>
<div class="av" style="top:365.0px"><svg width="18.4" height="18.4" viewBox="0 0 18.4 18.4"><g fill="none" stroke="#333" stroke-width="0.900"><circle cx="9.100" cy="8.100" r="2.300"/><path d="M5 13.800 v-0.900 a2.200 2.200 0 0 1 2.200 -2.200 h3.800 a2.200 2.200 0 0 1 2.200 2.200 v0.900 z" stroke-linejoin="round"/></g></svg></div>
<svg class="a" style="left:442.5px;top:368.7px" width="10" height="11" viewBox="0 0 10 11"><g fill="none" stroke="#2a2a2a" stroke-width="0.85"><rect x="1.900" y="1" width="6.400" height="8.500" rx="1.400"/><path d="M1.900 7.400 h6.400"/><path d="M4.4 8.8 h1.4" stroke-linecap="round"/></g></svg>
<div class="nm" style="top:368.9px">Юля Муравська</div>
<svg class="a" style="left:608px;top:368.7px" width="10" height="11" viewBox="0 0 10 11"><g fill="none" stroke="#b3262f" stroke-width="0.72" stroke-linecap="round"><rect x="3.6" y="1" width="3.2" height="5.6" rx="1.6"/><path d="M2.2 5.2 a3 3 0 0 0 6 0.2"/><path d="M5.2 8.2 v1.6 M2.6 9.8 h5.6"/><path d="M1.6 1.6 l7 7.6"/></g></svg>
<div class="a" style="left:629.300px;top:78px;width:10px;height:312.500px;background:#ebebeb;border-radius:5px"></div>
<div class="a" style="left:632px;top:247px;width:4.700px;height:131.800px;background:#bdbdbd;border-radius:2.4px"></div>
<svg class="a" style="left:630.300px;top:79.500px" width="8" height="6" viewBox="0 0 8 6" fill="none" stroke="#555" stroke-width="0.700" stroke-linecap="round" stroke-linejoin="round"><path d="M1.400 4 l2.600 -2.400 l2.600 2.400"/></svg>
<svg class="a" style="left:630.300px;top:382.700px" width="8" height="6" viewBox="0 0 8 6" fill="none" stroke="#555" stroke-width="0.700" stroke-linecap="round" stroke-linejoin="round"><path d="M1.400 1.800 l2.600 2.400 l2.600 -2.400"/></svg>
<div class="t" style="left:418.800px;top:395.800px;font-size:8px;font-weight:bold">Выключить все ми...</div>
<div class="t" style="left:520px;top:395.800px;font-size:8.100px;font-weight:bold">Включить все мик...</div>
<svg class="a" style="left:614.800px;top:397.300px" width="14" height="6" viewBox="0 0 14 6" fill="#777"><circle cx="4.400" cy="3" r="0.650"/><circle cx="7" cy="3" r="0.650"/><circle cx="9.600" cy="3" r="0.650"/></svg>

<div class="a" style="left:0;top:417px;width:640px;height:38px;background:#efefef"></div>

<!-- toolbar -->
<svg class="a" style="left:182.8px;top:422.600px" width="38.2" height="26.600" viewBox="182.8 422.600 38.2 26.600"><rect x="184.2" y="424" width="35.4" height="23.800" rx="11.900" fill="none" stroke="#a4a4a4" stroke-width="0.800"/></svg><svg class="a" style="left:226.5px;top:422.600px" width="37.8" height="26.600" viewBox="226.5 422.600 37.8 26.600"><rect x="227.9" y="424" width="35.0" height="23.800" rx="11.900" fill="none" stroke="#a4a4a4" stroke-width="0.800"/></svg><svg class="a" style="left:270.3px;top:422.600px" width="27.0" height="26.600" viewBox="270.3 422.600 27.0 26.600"><rect x="271.7" y="424" width="24.2" height="23.800" rx="11.900" fill="none" stroke="#a4a4a4" stroke-width="0.800"/></svg><svg class="a" style="left:302.8px;top:422.600px" width="27.0" height="26.600" viewBox="302.8 422.600 27.0 26.600"><rect x="304.2" y="424" width="24.2" height="23.800" rx="11.900" fill="none" stroke="#a4a4a4" stroke-width="0.800"/></svg><svg class="a" style="left:335.3px;top:422.600px" width="54.5" height="26.600" viewBox="335.3 422.600 54.5 26.600"><rect x="336.7" y="424" width="51.7" height="23.800" rx="11.900" fill="none" stroke="#a4a4a4" stroke-width="0.800"/></svg><svg class="a" style="left:395.3px;top:422.600px" width="27.0" height="26.600" viewBox="395.3 422.600 27.0 26.600"><rect x="396.7" y="424" width="24.2" height="23.800" rx="11.900" fill="none" stroke="#a4a4a4" stroke-width="0.800"/></svg>
<div class="a" style="left:428.8px;top:424px;width:24.4px;height:24.4px;border-radius:50%;background:#e11d30"></div>
<svg class="a" style="left:428.8px;top:424px" width="24.4" height="24.4" viewBox="0 0 24.4 24.4"><path d="M9.4 9.4 l5.6 5.6 M15 9.4 l-5.6 5.6" stroke="#fff" stroke-width="1" stroke-linecap="round"/></svg>
<!-- mic off big -->
<svg class="a" style="left:189px;top:429px" width="14" height="14" viewBox="0 0 14 14" fill="none" stroke="#b3262f" stroke-width="0.9" stroke-linecap="round"><rect x="5" y="1.6" width="3.8" height="6.6" rx="1.9"/><path d="M3.4 6.8 a3.6 3.6 0 0 0 7 0.4"/><path d="M7 10.4 v1.8 M3.6 12.3 h7"/><path d="M2.6 2 l8.6 9.6"/></svg>
<svg class="a" style="left:207px;top:432px" width="8" height="8" viewBox="0 0 8 8" fill="none" stroke="#333" stroke-width="0.9" stroke-linecap="round" stroke-linejoin="round"><path d="M1.4 2.8 l2.6 2.6 l2.6 -2.6"/></svg>
<!-- camera -->
<svg class="a" style="left:233px;top:429px" width="15" height="14" viewBox="0 0 15 14" fill="none" stroke="#333" stroke-width="0.9" stroke-linejoin="round"><rect x="1.4" y="3" width="8.4" height="8" rx="2"/><path d="M9.8 5.6 l3 -1.6 v6 l-3 -1.6"/><circle cx="3.6" cy="5.2" r="0.4" fill="#2a8a4a" stroke="#2a8a4a"/></svg>
<svg class="a" style="left:251px;top:432px" width="8" height="8" viewBox="0 0 8 8" fill="none" stroke="#333" stroke-width="0.9" stroke-linecap="round" stroke-linejoin="round"><path d="M1.4 2.8 l2.6 2.6 l2.6 -2.6"/></svg>
<!-- share -->
<svg class="a" style="left:277px;top:429.5px" width="14" height="13" viewBox="0 0 14 13" fill="none" stroke="#222" stroke-width="0.9" stroke-linejoin="round" stroke-linecap="round"><rect x="1.6" y="2.6" width="10.6" height="8" rx="1.6"/><path d="M6.9 8.6 v-3.4 M5.4 6.4 l1.5 -1.5 l1.5 1.5"/></svg>
<!-- record -->
<svg class="a" style="left:309.3px;top:429px" width="14" height="14" viewBox="0 0 14 14" fill="none" stroke="#222" stroke-width="0.9"><circle cx="7" cy="7" r="5.300"/><circle cx="7" cy="7" r="1.800" stroke-width="0.900"/></svg>
<!-- hand -->
<svg class="a" style="left:342px;top:429px" width="12" height="14" viewBox="0 0 12 14" fill="none" stroke="#222" stroke-width="0.9" stroke-linejoin="round"><rect x="3.200" y="2.600" width="6" height="9.600" rx="2.700"/><path d="M5.200 2.800 v3.200 M7.200 2.800 v3.200" stroke-width="0.800"/><path d="M3.400 8 q1.800 -1.600 3.200 0 q0.600 1.800 -1 2.800" stroke-width="0.800"/></svg>
<div class="a" style="left:362.3px;top:429.5px;width:0.800px;height:13px;background:#d6d6d6"></div>
<svg class="a" style="left:369.5px;top:428.5px" width="14" height="14" viewBox="0 0 14 14" fill="none" stroke="#222" stroke-width="0.85" stroke-linecap="round"><path d="M10.8 5.2 a4.6 4.6 0 1 1 -3 -2.6"/><path d="M4.8 8.6 q2.2 2.2 4.4 0"/><circle cx="5.4" cy="6.2" r="0.35" fill="#222"/><circle cx="8.6" cy="6.2" r="0.35" fill="#222"/><path d="M10.8 1.4 v2.6 M9.5 2.7 h2.6" stroke-width="0.7"/></svg>
<!-- more -->
<svg class="a" style="left:402px;top:433px" width="14" height="6" viewBox="0 0 14 6" fill="#333"><circle cx="4.400" cy="3" r="0.650"/><circle cx="6.900" cy="3" r="0.650"/><circle cx="9.400" cy="3" r="0.650"/></svg>
<!-- right side -->
<svg class="a" style="left:514.400px;top:429.800px" width="14" height="13" viewBox="0 0 14 13" fill="none" stroke="#222" stroke-width="0.950"><rect x="1.600" y="1.600" width="4" height="4" rx="1.100"/><rect x="1.600" y="7.400" width="4" height="4" rx="1.100"/><rect x="7.400" y="7.400" width="4" height="4" rx="1.100"/><path d="M9.400 1.800 v3.600 M7.600 3.600 h3.600" stroke-linecap="round"/></svg>
<div class="a" style="left:541px;top:423.5px;width:25.2px;height:25.2px;border-radius:50%;background:#c6c6c6"></div>
<svg class="a" style="left:546.6px;top:429.5px" width="14" height="13" viewBox="0 0 14 13" fill="#111"><circle cx="6" cy="3.6" r="2.3"/><path d="M1.6 11.4 v-1.6 a3 3 0 0 1 3 -3 h2.8 a3 3 0 0 1 1.6 0.5 v4.1 z"/><rect x="8.4" y="7" width="4.6" height="4.6" rx="0.6" fill="#111" stroke="#c6c6c6" stroke-width="0.5"/><path d="M9.3 8.3 h2.8 M9.3 9.3 h2.8 M9.3 10.3 h2.8" stroke="#c6c6c6" stroke-width="0.45"/></svg>
<svg class="a" style="left:579px;top:429px" width="14" height="14" viewBox="0 0 14 14" fill="none" stroke="#222" stroke-width="0.9" stroke-linejoin="round"><path d="M7 2.2 a4.8 4.8 0 1 1 -2.4 9 l-2.2 0.6 l0.6 -2.2 a4.8 4.8 0 0 1 4 -7.4 z"/></svg>
<svg class="a" style="left:612px;top:433px" width="14" height="6" viewBox="0 0 14 6" fill="#8a8a8a"><circle cx="4.400" cy="3" r="0.650"/><circle cx="7" cy="3" r="0.650"/><circle cx="9.600" cy="3" r="0.650"/></svg>

<!-- taskbar -->
<div class="a" id="task"></div>
<div class="a" style="left:154.3px;top:455px;width:30px;height:25px;background:#42575f"></div>
<div class="a" style="left:154.3px;top:478.600px;width:30px;height:1.400px;background:#76bdf0"></div>
<div class="a" style="left:636.600px;top:455px;width:0.800px;height:25px;background:#55656d"></div>
<!-- windows logo -->
<svg class="a" style="left:10px;top:462px" width="11" height="11" viewBox="0 0 11 11" fill="#fff"><path d="M0.3 1.9 L4.6 1.3 V5.1 H0.3z M5.2 1.2 L10.5 0.4 V5.1 H5.2z M0.3 5.7 H4.6 V9.5 L0.3 8.9z M5.2 5.7 H10.5 V10.4 L5.2 9.6z"/></svg>
<!-- edge -->
<svg class="a" style="left:39px;top:460px" width="16" height="16" viewBox="0 0 16 16"><circle cx="8" cy="8" r="7" fill="#1b8fd6"/><path d="M2 9.5 a6 6 0 0 1 12 -2 c0 2 -1.6 2.8 -3.4 2.8 c-1.6 0 -2.4 -0.9 -2.2 -1.9 a3 3 0 0 0 -3 3.6 a5 5 0 0 0 3 2.9 a7 7 0 0 1 -6.4 -5.4z" fill="#3ddc97" opacity="0.85"/><path d="M1.2 8.5 a6.8 6.8 0 0 1 13.4 -2 a5 5 0 0 0 -9.4 1.5 a4 4 0 0 0 0.3 3 a6 6 0 0 1 -4.3 -2.5z" fill="#0c59a4"/></svg>
<!-- store -->
<svg class="a" style="left:69px;top:459.5px" width="16" height="17" viewBox="0 0 16 17"><path d="M5.4 5 v-1.4 a2.6 2.6 0 0 1 5.2 0 v1.4" fill="none" stroke="#4aa3e0" stroke-width="1"/><rect x="1.4" y="4.6" width="13.2" height="11" rx="1.4" fill="#f2f2f2"/><rect x="4.6" y="7" width="3" height="3" fill="#f25022"/><rect x="8.2" y="7" width="3" height="3" fill="#7fba00"/><rect x="4.6" y="10.6" width="3" height="3" fill="#00a4ef"/><rect x="8.2" y="10.6" width="3" height="3" fill="#ffb900"/></svg>
<!-- explorer -->
<svg class="a" style="left:100px;top:460.5px" width="16" height="15" viewBox="0 0 16 15"><path d="M1 2.4 a1 1 0 0 1 1 -1 h4 l1.4 1.6 h6.6 a1 1 0 0 1 1 1 v8.6 a1 1 0 0 1 -1 1 h-12 a1 1 0 0 1 -1 -1z" fill="#e9a825"/><path d="M1 5.4 h14 v7.2 a1 1 0 0 1 -1 1 h-12 a1 1 0 0 1 -1 -1z" fill="#fbd55c"/><rect x="4.6" y="8.6" width="6.8" height="5" fill="#3d8fd9"/><rect x="5.8" y="10.4" width="4.4" height="3.2" fill="#fbd55c"/></svg>
<!-- opera -->
<svg class="a" style="left:131px;top:460.5px" width="15" height="15" viewBox="0 0 15 15"><ellipse cx="7.5" cy="7.5" rx="6.6" ry="6.8" fill="#e3122d"/><ellipse cx="7.5" cy="7.5" rx="2.7" ry="4.7" fill="#1f3641"/></svg>
<!-- webex -->
<svg class="a" style="left:161.500px;top:459.600px" width="17" height="17" viewBox="0 0 17 17"><rect x="0.400" y="0.400" width="15.200" height="15.200" rx="3.400" fill="#0b0d10"/><path d="M3.200 5.200 q0.500 5.800 2.700 5.800 q1.500 0 2.100 -3.200" fill="none" stroke="#1fc7f2" stroke-width="2.100" stroke-linecap="round"/><path d="M6.200 10.600 q0.300 -6 2.500 -6 q1.800 0 2.500 3.600" fill="none" stroke="#1b63f0" stroke-width="2.100" stroke-linecap="round"/><path d="M9.300 4.600 q2.700 -0.200 3.200 3" fill="none" stroke="#34d57c" stroke-width="1.700" stroke-linecap="round"/><path d="M9.400 9.400 h6.400 v4.600 l-2 2 h-4.400z" fill="#eef5f0"/><path d="M11.200 10.800 l3.200 1.700 l-3.200 1.700z" fill="#1fa25c"/></svg>
<!-- weather -->
<svg class="a" style="left:396px;top:459px" width="17" height="17" viewBox="0 0 17 17"><circle cx="7.4" cy="7.6" r="5.6" fill="#f7b928"/><circle cx="7.4" cy="7.6" r="3.8" fill="#fbd04a"/><path d="M7 13.4 a2.4 2.4 0 0 1 0.4 -4.7 a3 3 0 0 1 5.6 0.6 a2.1 2.1 0 0 1 0 4.1z" fill="#dfe9f3"/></svg>
<svg class="a" style="left:501px;top:464px" width="9" height="8" viewBox="0 0 9 8" fill="none" stroke="#fff" stroke-width="0.9"><path d="M1.2 5.6 l3.3 -3.3 l3.3 3.3"/></svg>
<svg class="a" style="left:514.5px;top:462.5px" width="12" height="11" viewBox="0 0 12 11" fill="none" stroke="#fff" stroke-width="0.8"><rect x="3" y="1.4" width="7.8" height="5.6"/><path d="M5.4 9.4 h4 M7.4 7 v2.4"/><rect x="0.8" y="4.8" width="2.8" height="4.8" fill="#1f3641"/></svg>
<svg class="a" style="left:529.5px;top:462.5px" width="13" height="11" viewBox="0 0 13 11" fill="none" stroke="#fff" stroke-width="0.8"><path d="M1 4 h2 l2.6 -2.4 v7.8 l-2.6 -2.4 h-2z"/><path d="M7.2 3.8 q1.2 1.7 0 3.4 M8.8 2.6 q2 2.9 0 5.8 M10.4 1.4 q2.8 4.1 0 8.2" stroke-width="0.7"/></svg>
<svg class="a" style="left:390px;top:455px" width="250" height="25" viewBox="390 455 250 25" font-family="'Liberation Sans',sans-serif" fill="#fff">
<text x="417.700" y="471.500" font-size="9.200" textLength="17.300" lengthAdjust="spacingAndGlyphs">19°C</text>
<text x="441" y="471.500" font-size="9.200" textLength="50.600" lengthAdjust="spacingAndGlyphs">Mostly sunny</text>
<text x="547.700" y="470.400" font-size="8.200" textLength="12" lengthAdjust="spacingAndGlyphs">УКР</text>
<text x="577.600" y="464.400" font-size="8.300" textLength="16.800" lengthAdjust="spacingAndGlyphs">11:28</text>
<text x="569.700" y="476" font-size="8.300" textLength="33.200" lengthAdjust="spacingAndGlyphs">25.05.2022</text>
<path d="M614 462.900 h10 v9 h-6 l-2 2 v-2 h-2z" fill="#fff"/>
<path d="M615.500 465 h7 M615.500 466.800 h7 M615.500 468.600 h7" stroke="#1f3641" stroke-width="0.600"/>
<circle cx="624" cy="472.300" r="4.100" fill="#2a2a2e" stroke="#1f3641" stroke-width="0.800"/>
<text x="624" y="474.700" font-size="6.600" text-anchor="middle" font-weight="bold">1</text>
</svg>

</div></body></html>
